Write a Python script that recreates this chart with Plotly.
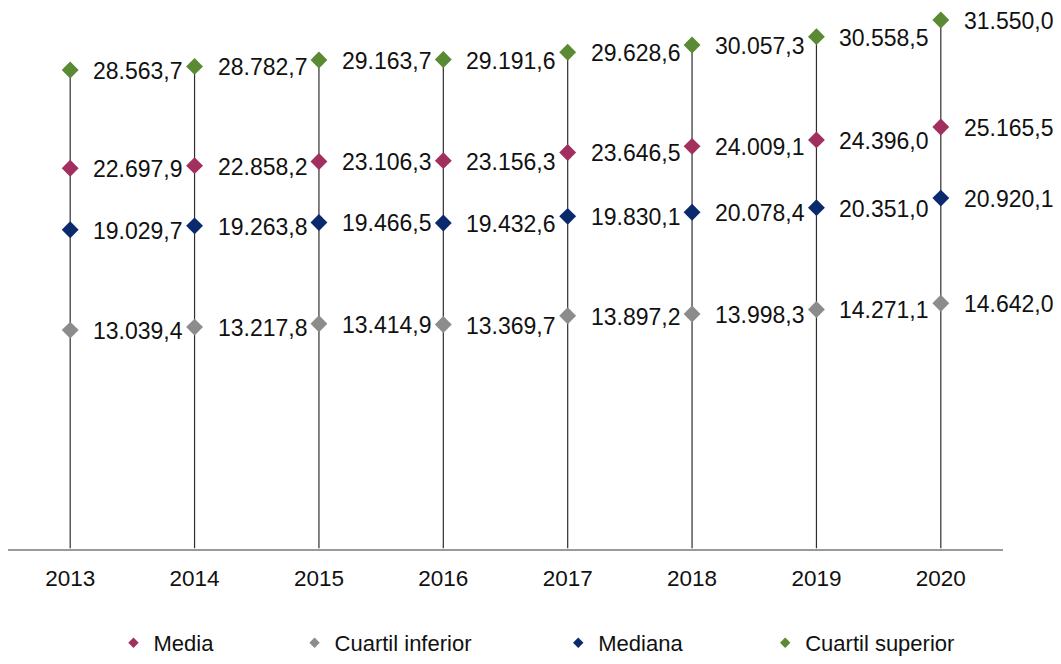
import plotly.graph_objects as go

# Annual wage distribution figures
years = ["2013", "2014", "2015", "2016", "2017", "2018", "2019", "2020"]
media = [22697.9, 22858.2, 23106.3, 23156.3, 23646.5, 24009.1, 24396.0, 25165.5]
cuartil_inferior = [13039.4, 13217.8, 13414.9, 13369.7, 13897.2, 13998.3, 14271.1, 14642.0]
mediana = [19029.7, 19263.8, 19466.5, 19432.6, 19830.1, 20078.4, 20351.0, 20920.1]
cuartil_superior = [28563.7, 28782.7, 29163.7, 29191.6, 29628.6, 30057.3, 30558.5, 31550.0]

series = [
    ("Media", media, "#a1305f"),
    ("Cuartil inferior", cuartil_inferior, "#8c8c8c"),
    ("Mediana", mediana, "#0b2a6e"),
    ("Cuartil superior", cuartil_superior, "#5a8a33"),
]

FONT = "Liberation Sans, Arial, sans-serif"


def fmt_es(v):
    s = f"{v:,.1f}"
    return s.replace(",", "X").replace(".", ",").replace("X", ".")


fig = go.Figure()

# vertical drop lines from the baseline up to the upper quartile
lx, ly = [], []
for yr, top in zip(years, cuartil_superior):
    lx += [yr, yr, None]
    ly += [0, top, None]
fig.add_trace(go.Scatter(x=lx, y=ly, mode="lines",
                         line=dict(color="#2e2e2e", width=1.2),
                         showlegend=False, hoverinfo="skip"))

legend_x = [0.106, 0.288, 0.553, 0.761]
annotations = []
for i, (name, vals, color) in enumerate(series):
    fig.add_trace(go.Scatter(x=years, y=vals, mode="markers", name=name,
                             marker=dict(symbol="diamond", size=13, color=color),
                             showlegend=False))
    lg = "legend" if i == 0 else f"legend{i + 1}"
    fig.add_trace(go.Scatter(x=[None], y=[None], mode="markers", name=name,
                             marker=dict(symbol="diamond", size=8, color=color),
                             legend=lg, showlegend=True))
    for k, v in enumerate(vals):
        annotations.append(dict(
            x=k, y=v, xref="x", yref="y", text=fmt_es(v), showarrow=False,
            xanchor="left", yanchor="middle", xshift=21, yshift=-1,
            font=dict(family=FONT, size=23, color="#111111")))

legend_common = dict(orientation="h", yanchor="middle", y=0.027,
                     xanchor="left", bgcolor="rgba(0,0,0,0)",
                     font=dict(family=FONT, size=22, color="#111111"))
layout_legends = {}
for i, x in enumerate(legend_x):
    key = "legend" if i == 0 else f"legend{i + 1}"
    layout_legends[key] = dict(x=x, **legend_common)

fig.update_layout(
    width=1061, height=664,
    margin=dict(l=8, r=58, t=10, b=0),
    paper_bgcolor="white", plot_bgcolor="white",
    xaxis=dict(type="category", range=[-0.5, 7.5], showgrid=False,
               showline=True, linecolor="#9a9a9a", linewidth=1.5,
               ticks="", ticklabelstandoff=9,
               tickfont=dict(family=FONT, size=22.5, color="#111111"),
               zeroline=False),
    yaxis=dict(range=[0, 32150], domain=[0.1728, 1], visible=False,
               showgrid=False, zeroline=False),
    annotations=annotations,
    **layout_legends,
)

fig.write_html("out.html")
